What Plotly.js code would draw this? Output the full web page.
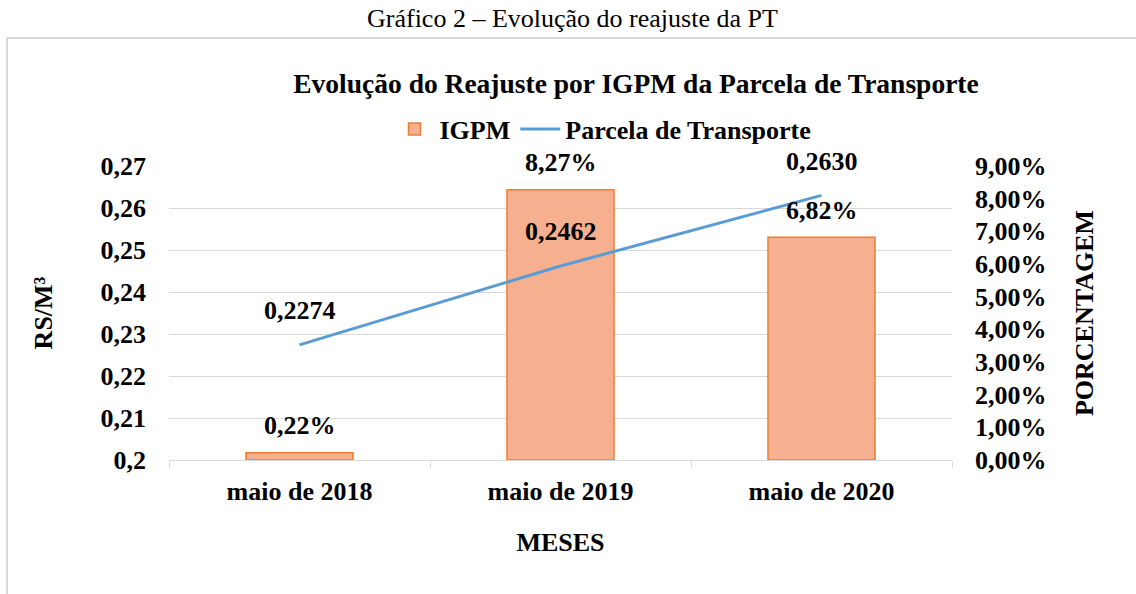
<!DOCTYPE html>
<html>
<head>
<meta charset="utf-8">
<script src="https://cdn.plot.ly/plotly-3.0.1.min.js"></script>
<style>
  html, body { margin: 0; padding: 0; background: #fff; }
  #chart { width: 1136px; height: 594px; }
</style>
</head>
<body>
<div id="chart"></div>
<script>
// ---- data ----
const categories = ["maio de 2018", "maio de 2019", "maio de 2020"];
const igpm = [0.0022, 0.0827, 0.0682];          // IGPM (fraction)
const parcela = [0.2274, 0.2462, 0.2630];        // Parcela de Transporte (R$/m³)
const leftTicks = [0.20, 0.21, 0.22, 0.23, 0.24, 0.25, 0.26, 0.27];
const rightTicks = [0, 0.01, 0.02, 0.03, 0.04, 0.05, 0.06, 0.07, 0.08, 0.09];

const FONT = "Liberation Serif, Times New Roman, serif";

// geometry of the plot area (pixels)
const L = 169, R = 952, T = 166, B = 460, W = 1136, H = 594;
const px2x = p => (p - L) / (R - L);
const py2y = p => (B - p) / (B - T);

const barTrace = {
  type: "bar",
  name: "IGPM",
  x: categories,
  y: igpm,
  yaxis: "y",
  width: 0.41,
  marker: { color: "#F6B090", line: { color: "#ED7D31", width: 1.5 } },
  hoverinfo: "skip"
};

const lineTrace = {
  type: "scatter",
  mode: "lines",
  name: "Parcela de Transporte",
  x: categories,
  y: parcela,
  yaxis: "y2",
  line: { color: "#5B9BD5", width: 3 },
  hoverinfo: "skip"
};

const labelFont = { family: FONT, size: 26, color: "#000", weight: "bold" };

const annotations = [];
categories.forEach((c, i) => {
  annotations.push({
    x: c, y: parcela[i], xref: "x", yref: "y2",
    text: parcela[i].toFixed(4).replace(".", ","),
    showarrow: false, yshift: 34, font: labelFont
  });
  annotations.push({
    x: c, y: igpm[i], xref: "x", yref: "y",
    text: (igpm[i] * 100).toFixed(2).replace(".", ",") + "%",
    showarrow: false, yshift: 27, font: labelFont
  });
});
// caption above the chart box
annotations.push({
  xref: "paper", yref: "paper", x: px2x(572), y: py2y(18),
  xanchor: "center", yanchor: "middle",
  text: "Gráfico 2 – Evolução do reajuste da PT",
  showarrow: false,
  font: { family: FONT, size: 26, color: "#000" }
});

const layout = {
  width: W, height: H,
  margin: { l: L, r: W - R, t: T, b: H - B, pad: 0 },
  paper_bgcolor: "#fff", plot_bgcolor: "#fff",
  separators: ",.",
  showlegend: true,
  bargap: 0.59,
  title: {
    text: "Evolução do Reajuste por IGPM da Parcela de Transporte",
    font: { family: FONT, size: 27.5, color: "#000", weight: "bold" },
    xref: "paper", x: px2x(636), xanchor: "center",
    yref: "container", y: 1 - 83 / H, yanchor: "middle"
  },
  legend: {
    orientation: "h",
    xref: "paper", yref: "paper",
    x: px2x(603), xanchor: "center",
    y: py2y(129), yanchor: "middle",
    font: { family: FONT, size: 26, color: "#000", weight: "bold" },
    traceorder: "normal",
    itemwidth: 40,
    bgcolor: "rgba(0,0,0,0)"
  },
  xaxis: {
    type: "category",
    showgrid: false,
    showline: true, linecolor: "#d9d9d9", linewidth: 1,
    ticks: "outside", tickson: "boundaries", ticklen: 7, tickcolor: "#d9d9d9",
    tickfont: { family: FONT, size: 26, color: "#000", weight: "bold" },
    ticklabelstandoff: 8,
    title: { text: "MESES", font: { family: FONT, size: 26, color: "#000", weight: "bold" }, standoff: 27 },
    zeroline: false
  },
  yaxis: {
    side: "right",
    range: [0, 0.09],
    tickvals: rightTicks,
    tickformat: ".2%",
    showgrid: false, zeroline: false, showline: false,
    ticks: "",
    ticklabelstandoff: 22,
    tickfont: { family: FONT, size: 26, color: "#000", weight: "bold" },
    title: { text: "PORCENTAGEM", font: { family: FONT, size: 26, color: "#000", weight: "bold" }, standoff: 29 }
  },
  yaxis2: {
    overlaying: "y",
    side: "left",
    range: [0.2, 0.27],
    tickvals: leftTicks,
    showgrid: true, gridcolor: "#d9d9d9", gridwidth: 1,
    zeroline: false, showline: false,
    ticks: "",
    ticklabelstandoff: 22,
    tickfont: { family: FONT, size: 26, color: "#000", weight: "bold" },
    title: { text: "RS/M³", font: { family: FONT, size: 26, color: "#000", weight: "bold" }, standoff: 40 }
  },
  annotations: annotations,
  shapes: [
    {
      type: "rect", xref: "paper", yref: "paper", layer: "below",
      x0: px2x(7), x1: px2x(1145), y0: py2y(605), y1: py2y(38),
      line: { color: "#d9d9d9", width: 2 }, fillcolor: "rgba(0,0,0,0)"
    }
  ]
};

Plotly.newPlot("chart", [barTrace, lineTrace], layout, { staticPlot: true, displayModeBar: false });
</script>
</body>
</html>
